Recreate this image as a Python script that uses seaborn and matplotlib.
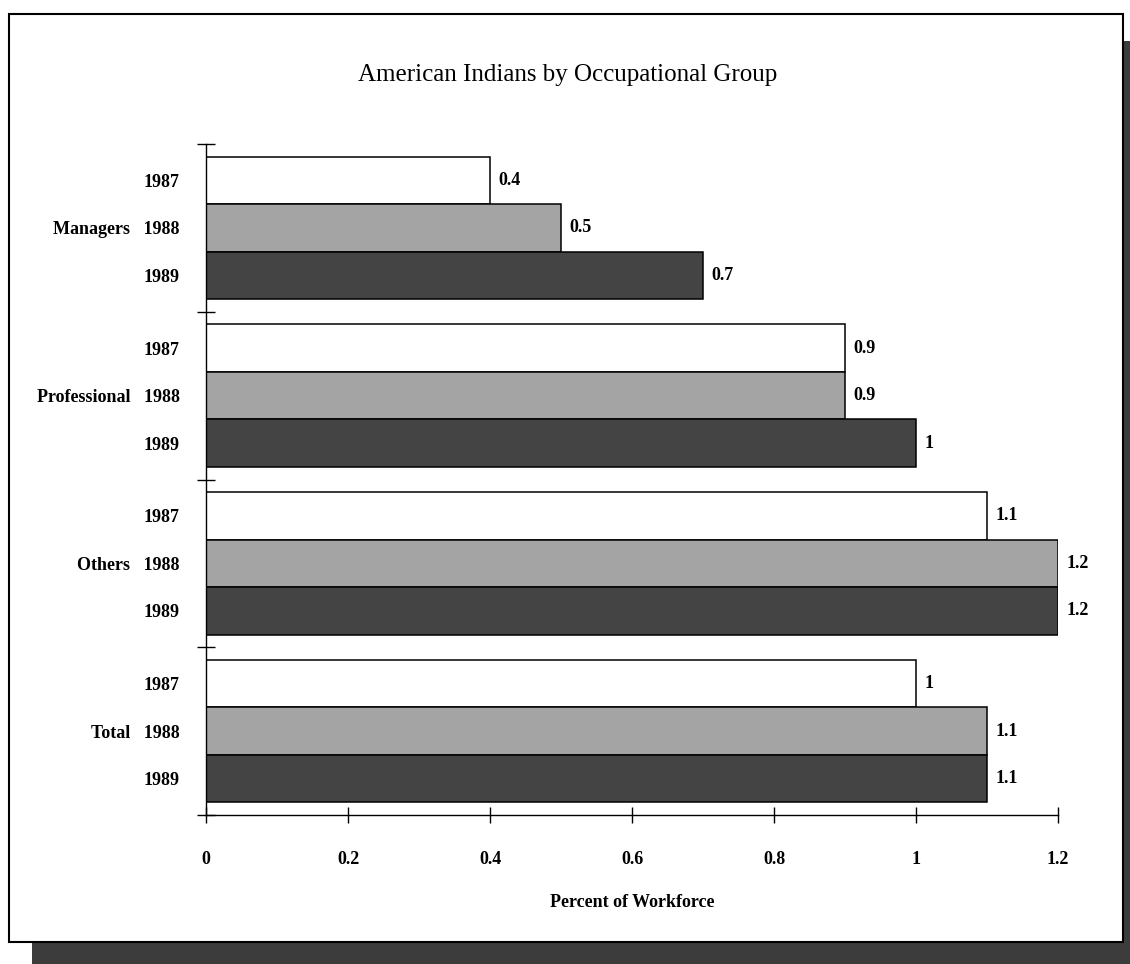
import numpy as np
import pandas as pd
import matplotlib
matplotlib.use("Agg")
import matplotlib.pyplot as plt
import seaborn as sns
from matplotlib.patches import Rectangle

# ---------------- data ----------------
groups = ["Managers", "Professional", "Others", "Total"]
years = ["1987", "1988", "1989"]
v1987 = [0.4, 0.9, 1.1, 1.0]
v1988 = [0.5, 0.9, 1.2, 1.1]
v1989 = [0.7, 1.0, 1.2, 1.1]
xticks = [0, 0.2, 0.4, 0.6, 0.8, 1.0, 1.2]
xtick_labels = ["0", "0.2", "0.4", "0.6", "0.8", "1", "1.2"]
title = "American Indians by Occupational Group"
xlabel = "Percent of Workforce"
colors = ["#ffffff", "#a4a4a4", "#444444"]

values = {"1987": v1987, "1988": v1988, "1989": v1989}
rows = []
for gi, g in enumerate(groups):
    for y in years:
        rows.append({"group": g, "year": y, "value": values[y][gi]})
df = pd.DataFrame(rows)

# ---------------- style ----------------
sns.set_style("white")
plt.rcParams["font.family"] = ["Liberation Serif", "DejaVu Serif"]
plt.rcParams["font.weight"] = "bold"
plt.rcParams["text.color"] = "black"
plt.rcParams["axes.labelcolor"] = "black"
plt.rcParams["xtick.color"] = "black"
plt.rcParams["ytick.color"] = "black"

W, H = 1130, 964
fig = plt.figure(figsize=(W / 100, H / 100), dpi=100)
fig.patch.set_facecolor("white")

# drop shadow and frame
shadow = Rectangle((32 / W, 0), 1 - 32 / W, 1 - 41 / H, transform=fig.transFigure,
                   facecolor="#3c3c3c", edgecolor="none", zorder=0)
frame = Rectangle((9 / W, 1 - 942 / H), (1123 - 9) / W, (942 - 14) / H,
                  transform=fig.transFigure, facecolor="white", edgecolor="black",
                  linewidth=1.5, zorder=1)
fig.add_artist(shadow)
fig.add_artist(frame)

ax = fig.add_axes([206 / W, 1 - 815 / H, (1058 - 206) / W, (815 - 144) / H])
ax.set_zorder(2)
ax.patch.set_alpha(0)

sns.barplot(data=df, y="group", x="value", hue="year", orient="h",
            order=groups, hue_order=years, palette=colors, saturation=1,
            width=0.85, errorbar=None, edgecolor="black", linewidth=1.1,
            legend=False, ax=ax)

ax.set_xlim(0, 1.2)
ax.set_ylim(3.5, -0.5)

# value labels
for c in ax.containers:
    ax.bar_label(c, fmt="%g", padding=6, fontsize=13, fontweight="bold", color="black")

# y tick labels at each bar centre, from drawn bars
pos, labs = [], []
for yi, c in enumerate(ax.containers):
    for gi, p in enumerate(c.patches):
        pos.append(p.get_y() + p.get_height() / 2)
        lab = years[yi]
        if yi == 1:
            lab = groups[gi] + "   " + lab
        labs.append(lab)
ax.set_yticks(pos, labs)
ax.set_yticks([-0.5, 0.5, 1.5, 2.5, 3.5], minor=True)

ax.set_xticks(xticks, xtick_labels)
ax.tick_params(axis="x", which="major", bottom=True, direction="inout",
               length=11.5, width=1, pad=20, labelsize=13, color="black",
               labelcolor="black")
ax.tick_params(axis="y", which="major", left=True, length=0, pad=19, labelsize=13,
               labelcolor="black")
ax.tick_params(axis="y", which="minor", left=True, direction="inout",
               length=13, width=1, color="black")

for s in ["top", "right"]:
    ax.spines[s].set_visible(False)
for s in ["left", "bottom"]:
    ax.spines[s].set_color("black")
    ax.spines[s].set_linewidth(1)

ax.set_ylabel("")
ax.set_xlabel(xlabel, fontsize=13, fontweight="bold", labelpad=19, color="black")

fig.text(568 / W, 1 - 75 / H, title, ha="center", va="center",
         fontsize=18, fontweight="normal", color="black", zorder=3)

fig.savefig("out.png", dpi=100)
